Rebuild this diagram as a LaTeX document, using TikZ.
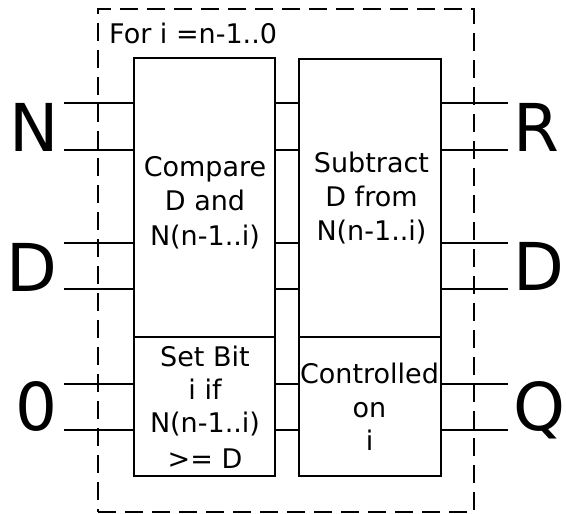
\documentclass[tikz,border=0pt]{standalone}
\usepackage{fontspec}
\setmainfont{DejaVu Sans}
\begin{document}
\begin{tikzpicture}[x=1pt,y=-1pt,
  wire/.style={line width=2.4pt},
  blockbox/.style={draw, line width=2.4pt, rectangle, inner sep=0, outer sep=0},
  lbl/.style={font=\fontsize{27}{34}\selectfont, inner sep=0, anchor=base},
  big/.style={font=\fontsize{66}{70}\selectfont, inner sep=0, anchor=base}]
\useasboundingbox (0,0) rectangle (566,514);
% loop frame
\node[draw, line width=2.4pt, dash pattern=on 18pt off 9pt, minimum width=376pt, minimum height=503pt, inner sep=0] (loop) at (286,260.5) {};
\node[lbl, anchor=base west] (fortxt) at (109,43) {For i =n-1..0};
% blocks
\node[blockbox, minimum width=141pt, minimum height=279pt] (ul) at (204.5,197.5) {};
\node[blockbox, minimum width=141pt, minimum height=139pt] (ll) at (204.5,406.5) {};
\node[blockbox, minimum width=142pt, minimum height=278pt] (ur) at (370,198) {};
\node[blockbox, minimum width=142pt, minimum height=139pt] (lr) at (370,406.5) {};
% block texts
\node[lbl] (c1) at (205,176) {Compare};
\node[lbl] (c2) at (205,210.5) {D and};
\node[lbl] (c3) at (205,245) {N(n-1..i)};
\node[lbl] (s1) at (205,366) {Set Bit};
\node[lbl] (s2) at (205,399) {i if};
\node[lbl] (s3) at (205,432.5) {N(n-1..i)};
\node[lbl] (s4) at (205,468) {>= D};
\node[lbl] (b1) at (371.5,172) {Subtract};
\node[lbl] (b2) at (371.5,206) {D from};
\node[lbl] (b3) at (371.5,240) {N(n-1..i)};
\node[lbl] (k1) at (369.5,383) {Controlled};
\node[lbl] (k2) at (369.5,417) {on};
\node[lbl] (k3) at (369.5,450) {i};
% wire ends
\coordinate (i1) at (64,103);
\coordinate (i2) at (64,150);
\coordinate (i3) at (64,243);
\coordinate (i4) at (64,289);
\coordinate (i5) at (64,384);
\coordinate (i6) at (64,430);
\coordinate (o1) at (508,103);
\coordinate (o2) at (508,150);
\coordinate (o3) at (508,243);
\coordinate (o4) at (508,289);
\coordinate (o5) at (508,384);
\coordinate (o6) at (508,430);
\foreach \k in {1,2,3,4,5,6} {
  \draw[wire] (i\k) -- (i\k -| ul.west);
  \draw[wire] (ul.east |- i\k) -- (ur.west |- i\k);
  \draw[wire] (ur.east |- o\k) -- (o\k);
}
% big labels
\node[big] (lN) at (34,151) {N};
\node[big] (lD) at (32,291) {D};
\node[big] (l0) at (36.5,430) {0};
\node[big] (rR) at (536,151) {R};
\node[big] (rD) at (539,290) {D};
\node[big] (rQ) at (539.5,430) {Q};
\end{tikzpicture}
\end{document}
